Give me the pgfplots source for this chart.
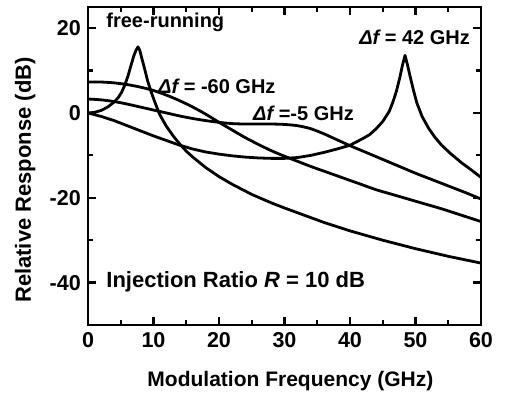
\documentclass[border=0pt]{standalone}
\usepackage{fontspec}
\setmainfont{Liberation Sans}
\usepackage{pgfplots}
\pgfplotsset{compat=1.18}
\begin{document}
\begin{tikzpicture}
\begin{axis}[
  scale only axis, width=393pt, height=318pt,
  xmin=0, xmax=60, ymin=-50, ymax=25,
  line width=2.8pt,
  axis line style={line width=2.8pt},
  xtick={0,10,20,30,40,50,60}, xticklabels={0,10,20,30,40,50,60},
  ytick={-40,-20,0,20}, yticklabels={-40,-20,0,20},
  minor x tick num=1, minor y tick num=1,
  tick align=inside,
  major tick length=8pt, minor tick length=5pt,
  every tick/.style={black, line width=2.2pt},
  tick label style={font=\fontsize{21.5}{22}\selectfont\bfseries},
  yticklabel style={xshift=-2.5pt},
  xticklabel style={yshift=-3pt},
  xlabel={Modulation Frequency (GHz)},
  ylabel={Relative Response (dB)},
  xlabel style={font=\fontsize{21}{22}\selectfont\bfseries, at={(axis description cs:0.515,-0.176)}, anchor=center},
  ylabel style={font=\fontsize{22}{22}\selectfont\bfseries, at={(axis description cs:-0.16,0.456)}, anchor=center},
]
% free-running
\addplot[black, no marks, line width=2.8pt, line join=round] coordinates {
(0,0) (1,0.15) (2,0.6) (3,1.4) (4,2.6) (4.6,3.6) (5.1,4.8) (5.6,6.5) (6.1,8.7) (6.6,11.4) (7.0,13.5) (7.3,14.7) (7.63,15.6) (7.9,14.8) (8.2,13.0) (8.65,10.4) (9.1,7.6) (9.66,4.9) (10.2,2.6) (10.9,-0.2) (11.5,-1.9) (12,-3.2) (13,-5.4) (14,-7.3) (15,-9.0) (16,-10.4) (18,-12.9) (20,-15.0) (22,-16.8) (25,-19.2) (28,-21.2) (30,-22.4) (33,-24.1) (36,-25.8) (40,-27.8) (45,-30.0) (50,-32.0) (55,-33.8) (60,-35.4)
};
% Delta f = -60 GHz
\addplot[black, no marks, line width=2.8pt, smooth] coordinates {
(0,7.3) (2,7.3) (4,7.1) (6,6.7) (8,6.1) (10,5.3) (12,4.2) (14,2.9) (16,1.4) (18,-0.3) (20,-2.2) (22,-4.0) (24,-5.8) (26,-7.4) (28,-8.9) (30,-10.2) (32,-11.4) (34,-12.6) (36,-13.7) (38,-14.8) (40,-15.9) (42,-17.0) (44,-18.1) (46,-19.0) (48,-19.9) (50,-20.8) (52,-21.7) (54,-22.6) (56,-23.6) (58,-24.6) (60,-25.6)
};
% Delta f = -5 GHz
\addplot[black, no marks, line width=2.8pt, smooth] coordinates {
(0,3.3) (2,3.1) (4,2.7) (6,2.1) (8,1.4) (10,0.7) (12,0.0) (14,-0.7) (16,-1.3) (18,-1.8) (20,-2.2) (22,-2.5) (24,-2.6) (26,-2.6) (28,-2.6) (30,-2.7) (32,-3.0) (34,-3.7) (36,-4.9) (38,-6.3) (40,-7.7) (42,-9.0) (44,-10.3) (46,-11.6) (48,-12.9) (50,-14.2) (52,-15.4) (54,-16.6) (56,-17.8) (58,-19.0) (60,-20.3)
};
% Delta f = 42 GHz
\addplot[black, no marks, line width=2.8pt, line join=round] coordinates {
(0,0) (2,-0.8) (4,-1.8) (6,-3.0) (8,-4.2) (10,-5.4) (12,-6.5) (14,-7.6) (16,-8.5) (18,-9.2) (20,-9.7) (22,-10.1) (24,-10.4) (26,-10.6) (28,-10.7) (30,-10.7) (32,-10.5) (34,-10.0) (36,-9.3) (38,-8.5) (40,-7.6) (42,-6.0) (43,-5.1) (44,-3.7) (45,-2.0) (46,0.4) (46.6,2.8) (47.1,5.2) (47.6,8.3) (48.0,11.2) (48.4,13.6) (48.8,11.2) (49.2,8.5) (49.7,5.3) (50.2,2.4) (51,-0.8) (52,-3.6) (53,-5.8) (54,-7.6) (55.3,-9.5) (57,-11.7) (58.5,-13.4) (60,-15.2)
};
\node[anchor=west, inner sep=0pt, font=\fontsize{20}{20}\selectfont\bfseries] at (axis cs:2.6,21.4) {free-running};
\node[anchor=west, inner sep=0pt, font=\fontsize{20}{20}\selectfont\bfseries] at (axis cs:41.2,17.9) {{\itshape Δf} = 42 GHz};
\node[anchor=west, inner sep=0pt, font=\fontsize{20}{20}\selectfont\bfseries] at (axis cs:10.5,6.4) {{\itshape Δf} = -60 GHz};
\node[anchor=west, inner sep=0pt, font=\fontsize{20}{20}\selectfont\bfseries] at (axis cs:25.0,0.0) {{\itshape Δf} =-5 GHz};
\node[anchor=west, inner sep=0pt, font=\fontsize{22}{22}\selectfont\bfseries] at (axis cs:2.6,-39.8) {Injection Ratio {\itshape R} = 10 dB};
\coordinate (bl) at (rel axis cs:0,0);
\end{axis}
\pgfresetboundingbox
\path[use as bounding box] (bl) ++(-88pt,-71pt) rectangle ++(506pt,396pt);
\end{tikzpicture}
\end{document}
